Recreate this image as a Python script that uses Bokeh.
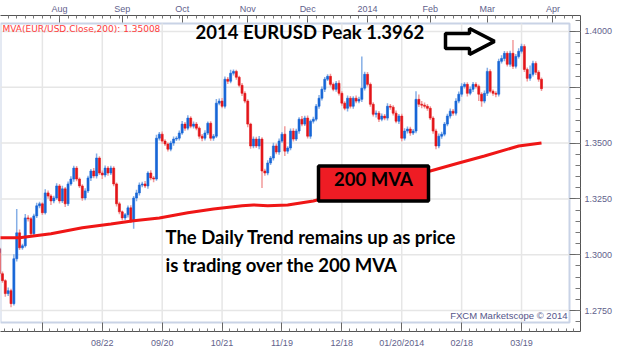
import numpy as np
from bokeh.plotting import figure
from bokeh.models import (Range1d, LinearAxis, FixedTicker, NumeralTickFormatter,
                          Label, BoxAnnotation, PolyAnnotation, ColumnDataSource)
from bokeh.embed import file_html
from bokeh.resources import INLINE

# ---------------- data (EUR/USD daily, 07/02/2013 - 03/28/2014, trading-day index) -------------
closes = [
    1.3027, 1.2915, 1.2884, 1.2826, 1.2839, 1.2781, 1.2982, 1.3098, 1.3031, 1.3040,
    1.3165, 1.3161, 1.3094, 1.3174, 1.3219, 1.3228, 1.3188, 1.3277, 1.3263, 1.3241,
    1.3254, 1.3308, 1.3241, 1.3295, 1.3228, 1.3317, 1.3339, 1.3388, 1.3339, 1.3308,
    1.3254, 1.3286, 1.3344, 1.3375, 1.3353, 1.3433, 1.3366, 1.3357, 1.3388, 1.3366,
    1.3388, 1.3317, 1.3228, 1.3192, 1.3165, 1.3179, 1.3210, 1.3152, 1.3254, 1.3277,
    1.3312, 1.3317, 1.3308, 1.3366, 1.3344, 1.3339, 1.3522, 1.3540, 1.3509, 1.3496,
    1.3473, 1.3500, 1.3518, 1.3522, 1.3545, 1.3585, 1.3567, 1.3612, 1.3576, 1.3585,
    1.3567, 1.3531, 1.3522, 1.3545, 1.3589, 1.3522, 1.3531, 1.3679, 1.3688, 1.3665,
    1.3786, 1.3777, 1.3813, 1.3821, 1.3795, 1.3759, 1.3723, 1.3688, 1.3585, 1.3487,
    1.3518, 1.3487, 1.3518, 1.3375, 1.3366, 1.3411, 1.3433, 1.3487, 1.3460, 1.3509,
    1.3540, 1.3464, 1.3478, 1.3554, 1.3518, 1.3554, 1.3607, 1.3585, 1.3612, 1.3531,
    1.3598, 1.3607, 1.3665, 1.3701, 1.3741, 1.3786, 1.3799, 1.3763, 1.3741, 1.3768,
    1.3723, 1.3679, 1.3656, 1.3701, 1.3665, 1.3701, 1.3688, 1.3696, 1.3746, 1.3808,
    1.3763, 1.3674, 1.3629, 1.3634, 1.3607, 1.3621, 1.3612, 1.3665, 1.3661, 1.3634,
    1.3598, 1.3621, 1.3522, 1.3554, 1.3563, 1.3545, 1.3554, 1.3696, 1.3674, 1.3670,
    1.3665, 1.3656, 1.3612, 1.3554, 1.3487, 1.3531, 1.3540, 1.3585, 1.3621, 1.3643,
    1.3634, 1.3688, 1.3719, 1.3754, 1.3763, 1.3723, 1.3741, 1.3763, 1.3754, 1.3719,
    1.3688, 1.3723, 1.3821, 1.3732, 1.3723, 1.3719, 1.3866, 1.3879, 1.3902, 1.3853,
    1.3902, 1.3844, 1.3888, 1.3911, 1.3933, 1.3830, 1.3790, 1.3808, 1.3857, 1.3817,
    1.3786, 1.37437,
]
first_open = 1.3010

# upper / lower shadow lengths in pips
wick_up = [
    12, 8, 10, 6, 14, 9, 20, 107, 15, 9,
    18, 12, 8, 10, 14, 9, 7, 16, 11, 8,
    10, 12, 9, 14, 8, 11, 13, 10, 9, 7,
    8, 12, 10, 9, 14, 20, 8, 11, 12, 9,
    10, 8, 7, 9, 6, 8, 10, 12, 9, 14,
    11, 10, 13, 8, 12, 9, 15, 10, 12, 8,
    7, 10, 12, 9, 11, 14, 10, 13, 8, 12,
    9, 7, 10, 12, 8, 9, 10, 18, 12, 14,
    12, 10, 16, 9, 8, 7, 10, 9, 8, 6,
    12, 10, 14, 8, 10, 12, 9, 14, 11, 12,
    10, 36, 8, 11, 12, 10, 9, 14, 10, 12,
    8, 11, 10, 14, 12, 10, 9, 12, 8, 10,
    14, 9, 8, 12, 10, 9, 12, 11, 142, 12,
    10, 8, 9, 12, 10, 11, 9, 14, 10, 8,
    12, 9, 10, 12, 11, 10, 9, 36, 22, 14,
    12, 10, 9, 8, 10, 12, 11, 9, 10, 12,
    10, 13, 12, 14, 10, 9, 12, 11, 10, 8,
    9, 12, 16, 10, 8, 9, 12, 14, 10, 9,
    12, 60, 11, 14, 12, 10, 9, 40, 12, 10,
    9, 8,
]
wick_dn = [
    10, 12, 9, 14, 11, 16, 8, 12, 10, 9,
    8, 12, 10, 14, 9, 11, 10, 8, 12, 18,
    10, 8, 12, 9, 14, 10, 8, 12, 10, 9,
    12, 10, 9, 14, 10, 12, 9, 18, 10, 12,
    9, 10, 12, 11, 10, 9, 12, 10, 36, 14,
    12, 10, 9, 12, 10, 14, 8, 10, 12, 9,
    11, 10, 12, 9, 10, 8, 12, 10, 9, 11,
    10, 12, 14, 10, 9, 12, 11, 8, 10, 9,
    10, 12, 9, 10, 11, 9, 12, 10, 14, 12,
    10, 9, 14, 76, 12, 10, 9, 11, 10, 12,
    9, 22, 12, 10, 11, 9, 12, 10, 8, 10,
    12, 10, 9, 11, 10, 12, 8, 10, 9, 11,
    10, 12, 9, 14, 10, 11, 9, 10, 12, 10,
    9, 11, 10, 14, 12, 9, 10, 11, 12, 10,
    9, 12, 14, 10, 11, 12, 9, 10, 12, 14,
    10, 11, 9, 12, 14, 10, 12, 9, 10, 11,
    12, 10, 9, 11, 10, 14, 9, 12, 10, 30,
    25, 10, 12, 9, 11, 14, 10, 9, 12, 10,
    11, 12, 10, 9, 10, 12, 14, 11, 10, 12,
    11, 10,
]

# 200-day moving average, read at these candle indices
mva_idx = [0, 8, 19, 30, 40, 48, 57, 67, 76, 86, 90, 95, 102, 111, 152, 162, 171, 183, 191]
mva_val = [1.3076, 1.3076, 1.3094, 1.3121, 1.3138, 1.3152, 1.3165, 1.3188, 1.3205, 1.3219,
           1.3223, 1.3219, 1.3223, 1.3241, 1.3375, 1.3411, 1.3442, 1.3487, 1.35008]

bottom_ticks = [16, 37, 58, 79, 100, 121, 142, 163, 184]
bottom_labels = ["", "08/22", "09/20", "10/21", "11/19", "12/18", "01/20/2014", "02/18", "03/19"]
first_date_label = "07/02/2013"
top_ticks = [22, 44, 65, 88, 109, 130, 152, 172, 195]
top_labels = ["Aug", "Sep", "Oct", "Nov", "Dec", "2014", "Feb", "Mar", "Apr"]
price_ticks = [1.275, 1.300, 1.325, 1.350, 1.375, 1.400]
last_price = 1.37437
mva_last = 1.35008

# ---------------- geometry helpers (pixel -> data) ----------------
K = 2.852      # pixels per trading day
X0 = 1.31      # index at the left edge


def ix(px):
    return X0 + px / K


def py(pyy):
    return 1.4 - (pyy - 30) / 2240.0


AX_COLOR = "#5f5f8c"
AX_FONT = "Liberation Sans"

p = figure(width=624, height=351, output_backend="svg", toolbar_location=None,
           x_range=Range1d(ix(0), ix(580)), y_range=Range1d(py(331), py(14)),
           x_axis_type=None, y_axis_type=None,
           min_border_left=0, min_border_right=44, min_border_top=14, min_border_bottom=20,
           outline_line_color=None, background_fill_color="white", border_fill_color="white")
p.xgrid.visible = False
p.ygrid.visible = False


def style_axis(ax, tin, tmin, standoff):
    ax.axis_line_color = "#555555"
    ax.axis_line_width = 1
    ax.major_tick_in = tin
    ax.major_tick_out = 0
    ax.minor_tick_in = tmin
    ax.minor_tick_out = 0
    ax.major_tick_line_color = "#666666"
    ax.minor_tick_line_color = "#777777"
    ax.major_label_text_font = AX_FONT
    ax.major_label_text_font_size = "9px"
    ax.major_label_text_color = AX_COLOR
    ax.major_label_standoff = standoff


minor_x = list(np.arange(bottom_ticks[0] - 6 * 2.625, 205, 2.625))
ax_b = LinearAxis(ticker=FixedTicker(ticks=bottom_ticks, minor_ticks=minor_x),
                  major_label_overrides=dict(zip(bottom_ticks, bottom_labels)))
style_axis(ax_b, 9, 3, 6)
p.add_layout(ax_b, "below")

minor_top = list(np.arange(top_ticks[0] - 21, 205, 3.0))
ax_t = LinearAxis(ticker=FixedTicker(ticks=top_ticks, minor_ticks=minor_top),
                  major_label_overrides=dict(zip(top_ticks, top_labels)))
style_axis(ax_t, 7, 3, 2)
p.add_layout(ax_t, "above")

minor_y = list(np.round(np.arange(1.265, 1.4075, 0.005), 3))
ax_r = LinearAxis(ticker=FixedTicker(ticks=price_ticks, minor_ticks=minor_y),
                  formatter=NumeralTickFormatter(format="0.0000"),
                  major_label_overrides={1.375: ""})
style_axis(ax_r, 11, 5, 4)
p.add_layout(ax_r, "right")

# grid lines inside the inner chart box
p.segment(x0=bottom_ticks, x1=bottom_ticks, y0=[py(322)] * len(bottom_ticks),
          y1=[py(22)] * len(bottom_ticks), line_color="#e6e6e6", line_width=1.5)
p.segment(x0=[ix(0)] * len(price_ticks), x1=[ix(569)] * len(price_ticks),
          y0=price_ticks, y1=price_ticks, line_color="#e6e6e6", line_width=1.5)
p.add_layout(BoxAnnotation(left=ix(0), right=ix(569), top=py(22), bottom=py(322),
                           fill_alpha=0, line_color="#c9d3e6", line_alpha=1, line_width=2,
                           level="underlay"))

# ---------------- candles ----------------
c = np.array(closes)
o = np.array([first_open] + closes[:-1])
hi = np.maximum(o, c) + np.array(wick_up) / 1e4
lo = np.minimum(o, c) - np.array(wick_dn) / 1e4
idx = np.arange(len(c))
up = c >= o
src = ColumnDataSource(dict(
    x=idx, hi=hi, lo=lo, top=np.maximum(o, c), bot=np.minimum(o, c),
    body=np.where(up, "#1766d6", "#e3151a"),
    wick=np.where(up, "#86afe6", "#f29b9b"),
))
p.segment(x0="x", x1="x", y0="lo", y1="hi", line_color="wick", line_width=1.5, source=src)
p.vbar(x="x", width=0.72, top="top", bottom="bot", fill_color="body", line_color="body",
       line_width=0.6, source=src)

# ---------------- 200 MVA ----------------
p.line(mva_idx, mva_val, line_color="#ef1616", line_width=3)

# ---------------- annotations ----------------
p.add_layout(Label(x=ix(2), y=py(33), text="MVA(EUR/USD.Close,200): %.5f" % mva_last,
                   text_font="DejaVu Sans", text_font_size="9px", text_color="#ff3b3b"))
BIG = dict(text_font="Lato", text_font_size="18.5px", text_font_style="bold", text_color="black")
p.add_layout(Label(x=ix(195), y=py(42), text="2014 EURUSD Peak 1.3962", **BIG))
arrow_x = [445, 469, 469, 494, 469, 469, 445]
arrow_y = [32, 32, 27, 40, 53, 47, 47]
p.add_layout(PolyAnnotation(xs=[ix(v) for v in arrow_x], ys=[py(v) for v in arrow_y],
                            fill_color="white", fill_alpha=1, line_color="black",
                            line_alpha=1, line_width=3.5))
p.add_layout(BoxAnnotation(left=ix(318), right=ix(428), top=py(165), bottom=py(200),
                           fill_color="#ee1c24", fill_alpha=1, line_color="black",
                           line_alpha=1, line_width=3.5))
p.add_layout(Label(x=ix(373), y=py(189.5), text="200 MVA", text_align="center", **BIG))
p.add_layout(Label(x=ix(165), y=py(247), text="The Daily Trend remains up as price", **BIG))
p.add_layout(Label(x=ix(165), y=py(275), text="is trading over the 200 MVA", **BIG))
p.add_layout(Label(x=ix(567), y=py(320.5), text="FXCM Marketscope \u00a9 2014", text_align="right",
                   text_font=AX_FONT, text_font_size="9.5px", text_color="#55558a"))
p.add_layout(Label(x=ix(582), y=last_price, text="%.5f" % last_price, text_baseline="middle",
                   text_font=AX_FONT, text_font_size="9.5px", text_color="#333333",
                   background_fill_color="#84d4f8", background_fill_alpha=1))
p.add_layout(Label(x=ix(0.5), y=py(346), text=first_date_label,
                   text_font=AX_FONT, text_font_size="9px", text_color=AX_COLOR))

open("out.html", "w").write(file_html(p, INLINE))
